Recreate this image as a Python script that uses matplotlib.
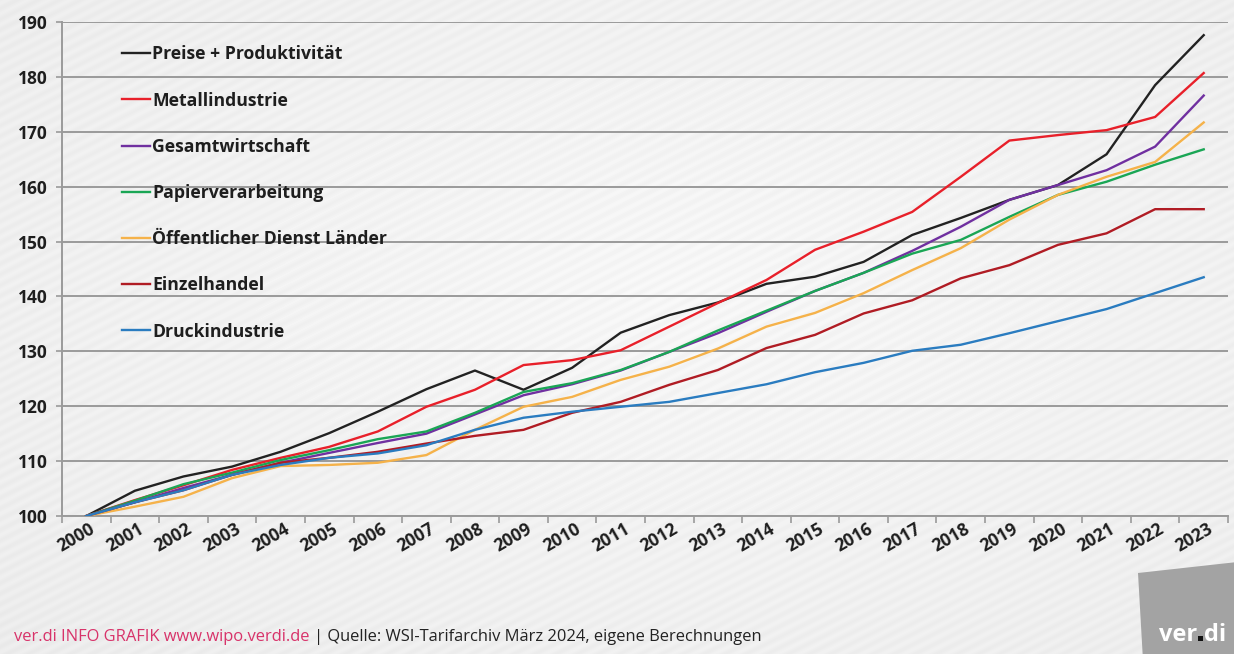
import numpy as np
import matplotlib
matplotlib.use("Agg")
import matplotlib.pyplot as plt
from matplotlib.patches import Polygon, Rectangle
import matplotlib.transforms as mtransforms
from matplotlib.font_manager import FontProperties

years = [str(y) for y in range(2000, 2024)]

preise_produktivitaet = [100.0, 104.6, 107.2, 109.0, 111.7, 115.1, 119.0, 123.1, 126.5, 123.0,
                         127.0, 133.4, 136.6, 138.9, 142.3, 143.6, 146.3, 151.2, 154.3, 157.6,
                         160.3, 165.9, 178.5, 187.6]
metallindustrie = [100.0, 102.9, 105.6, 108.4, 110.6, 112.6, 115.4, 119.9, 123.0, 127.5,
                   128.4, 130.2, 134.5, 138.8, 143.0, 148.5, 151.8, 155.4, 161.8, 168.4,
                   169.4, 170.3, 172.7, 180.7]
gesamtwirtschaft = [100.0, 102.5, 105.1, 107.5, 109.7, 111.5, 113.3, 115.0, 118.5, 122.0,
                    124.0, 126.5, 129.9, 133.3, 137.2, 141.0, 144.3, 148.3, 152.7, 157.6,
                    160.3, 163.0, 167.3, 176.6]
papierverarbeitung = [100.0, 102.8, 105.8, 107.9, 110.2, 112.0, 114.0, 115.4, 118.8, 122.6,
                      124.2, 126.6, 129.9, 133.8, 137.4, 141.0, 144.3, 147.8, 150.3, 154.5,
                      158.5, 160.9, 164.0, 166.8]
oeffentlicher_dienst = [100.0, 101.7, 103.5, 106.9, 109.1, 109.3, 109.7, 111.1, 115.7, 119.9,
                        121.7, 124.8, 127.2, 130.5, 134.5, 137.0, 140.6, 144.8, 148.8, 154.0,
                        158.5, 161.8, 164.5, 171.7]
einzelhandel = [100.0, 102.5, 104.7, 107.5, 109.7, 110.6, 111.7, 113.2, 114.6, 115.7,
                118.8, 120.8, 123.9, 126.6, 130.6, 133.0, 136.9, 139.3, 143.3, 145.7,
                149.4, 151.5, 155.9, 155.9]
druckindustrie = [100.0, 102.5, 104.7, 107.5, 109.3, 110.6, 111.4, 112.9, 115.7, 117.9,
                  119.0, 119.9, 120.8, 122.4, 124.0, 126.2, 127.9, 130.1, 131.2, 133.3,
                  135.5, 137.7, 140.6, 143.5]

series_names = ["Preise + Produktivität", "Metallindustrie", "Gesamtwirtschaft",
                "Papierverarbeitung", "Öffentlicher Dienst Länder", "Einzelhandel",
                "Druckindustrie"]
series_values = [preise_produktivitaet, metallindustrie, gesamtwirtschaft,
                 papierverarbeitung, oeffentlicher_dienst, einzelhandel, druckindustrie]
series_colors = ["#222222", "#e8202a", "#7030a0", "#1aa655", "#f5b24a", "#b01c24", "#2a7cc0"]

y_ticks = list(range(100, 191, 10))

W, H = 1234, 654
fig = plt.figure(figsize=(W / 100, H / 100), dpi=100)

# background with gradient and diagonal stripes
bg = fig.add_axes([0, 0, 1, 1], zorder=-10)
yy, xx = np.mgrid[0:H, 0:W]
cx, cy = W * 0.55, H * 0.45
r = np.sqrt(((xx - cx) / W) ** 2 + ((yy - cy) / H) ** 2)
base = 0.965 - 0.055 * r
s = xx * 0.45 + yy * 0.893
stripes = 0.5 + 0.5 * np.sin(2 * np.pi * s / 9.5)
img = np.clip(base + 0.022 * (stripes - 0.5), 0, 1)
bg.imshow(img, cmap="gray", vmin=0, vmax=1, extent=[0, W, H, 0], aspect="auto",
          interpolation="bilinear")
bg.set_xlim(0, W)
bg.set_ylim(H, 0)
bg.axis("off")

left, right, top, bottom = 62, 1228, 22, 516
ax = fig.add_axes([left / W, 1 - bottom / H, (right - left) / W, (bottom - top) / H])
ax.set_facecolor("none")

x = np.arange(len(years))
for name, vals, col in zip(series_names, series_values, series_colors):
    ax.plot(x, vals, color=col, lw=1.7, label=name, solid_joinstyle="round", zorder=3)

ax.set_xlim(-0.5, len(years) - 0.5)
ax.set_ylim(100, 190)
ax.set_yticks(y_ticks)
ax.set_yticklabels([str(t) for t in y_ticks])
ax.yaxis.grid(True, color="#9a9a9a", lw=1.4)
ax.set_axisbelow(True)
for sp in ["top", "right"]:
    ax.spines[sp].set_visible(False)
for sp in ["left", "bottom"]:
    ax.spines[sp].set_color("#9a9a9a")
    ax.spines[sp].set_linewidth(1.4)
ax.spines["bottom"].set_zorder(2)

ax.set_xticks(np.arange(len(years) + 1) - 0.5, minor=False)
ax.set_xticklabels([])
ax.set_xticks(x, minor=True)
ax.set_xticklabels(years, minor=True)
ax.tick_params(axis="x", which="major", length=5, width=1.2, color="#9a9a9a", direction="out")
ax.tick_params(axis="x", which="minor", length=0, pad=3)
ax.tick_params(axis="y", length=4, width=1.2, color="#9a9a9a", pad=6)

tick_font = dict(family=["Open Sans", "DejaVu Sans"], weight="bold", size=12.5)
for lab in ax.get_yticklabels():
    lab.set_fontproperties(FontProperties(**tick_font))
    lab.set_color("#1e1e1e")
offset = mtransforms.ScaledTranslation(-10 / 100, 0, fig.dpi_scale_trans)
for lab in ax.get_xticklabels(minor=True):
    lab.set_fontproperties(FontProperties(**dict(tick_font, size=12.6)))
    lab.set_rotation(30)
    lab.set_ha("center")
    lab.set_va("top")
    lab.set_color("#1e1e1e")
    lab.set_transform(lab.get_transform() + offset)

leg = ax.legend(loc="upper left", bbox_to_anchor=(0.038, 0.985), frameon=False,
                handlelength=1.6, handletextpad=0.1, labelspacing=1.6,
                prop=FontProperties(family=["Open Sans", "DejaVu Sans"], weight="bold", size=12.7))
for t in leg.get_texts():
    t.set_color("#1e1e1e")

# footer
foot_font = dict(family=["Open Sans", "DejaVu Sans"], size=11.9)
t1 = fig.text(14 / W, 1 - 637 / H, "ver.di INFO GRAFIK www.wipo.verdi.de", color="#d8336a",
              va="center", ha="left", **foot_font)
fig.canvas.draw()
bb = t1.get_window_extent()
fig.text((bb.x1 + 4) / W, 1 - 637 / H, "| Quelle: WSI-Tarifarchiv März 2024, eigene Berechnungen",
         color="#222222", va="center", ha="left", **foot_font)

# logo
logo = Polygon([(1138 / W, 1 - 573 / H), (1 + 0.01, 1 - 561 / H), (1 + 0.01, -0.01),
                (1143 / W, -0.01)], closed=True, transform=fig.transFigure,
               facecolor="#a3a3a3", edgecolor="none", zorder=5)
fig.add_artist(logo)
logo_font = dict(color="white", weight="bold", size=17, family=["Open Sans", "DejaVu Sans"],
                 va="baseline", zorder=6)
fig.text(1197 / W, 1 - 641 / H, "ver", ha="right", **logo_font)
fig.text(1204 / W, 1 - 641 / H, "di", ha="left", **logo_font)
fig.add_artist(Rectangle((1198 / W, 1 - 641 / H), 5 / W, 5 / H, transform=fig.transFigure,
                         facecolor="#111111", edgecolor="none", zorder=7))

fig.savefig("out.png", dpi=100)
